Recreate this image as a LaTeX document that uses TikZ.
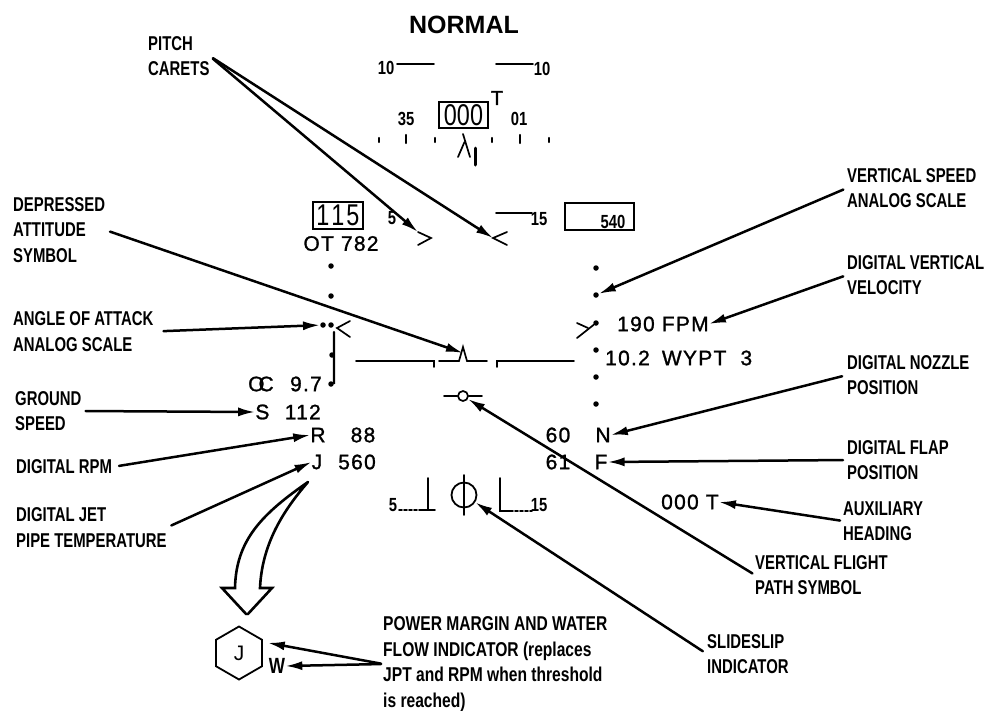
\documentclass[tikz,border=0pt]{standalone}
\usepackage{fontspec}
\usepackage{xcolor}
\usepackage{tikz}
\usetikzlibrary{positioning, arrows.meta, calc, shapes.geometric}
\newfontfamily\lblfont[FakeStretch=0.745]{Liberation Sans}
\newfontfamily\lblwide[FakeStretch=0.78]{Liberation Sans}
\newfontfamily\hudfont[LetterSpace=6,FakeBold=1.2]{Liberation Sans}

\begin{document}
\begin{tikzpicture}[
        x=1pt, y=-1pt,
        line cap=round,
        lbl/.style    ={inner sep=0pt, anchor=west, align=left,
                        font=\lblfont\bfseries\fontsize{20}{25.5}\selectfont},
        hud/.style    ={inner sep=0pt, font=\hudfont\fontsize{21}{21}\selectfont},
        small/.style  ={inner sep=0pt, font=\lblwide\bfseries\fontsize{19}{19}\selectfont},
        dot/.style    ={circle, fill=black, inner sep=0pt, minimum size=5.5pt},
        box/.style    ={draw, line width=1.8pt, inner sep=0pt},
        sym/.style    ={draw, line width=1.7pt},
        arr/.style    ={-{Latex[length=17pt,width=9pt]}, line width=2.5pt, draw=black}
    ]
      \useasboundingbox (0,0) rectangle (985,710);

      % ===== HEADING SCALE =====
      \node[inner sep=0pt, font=\fontspec{Liberation Sans}\bfseries\fontsize{25}{25}\selectfont]
                                            (mode)  at (464,25)   {NORMAL};
      \node[small]                          (pl10)  at (386,68)   {10};
      \node[small]                          (pr10)  at (542,69)   {10};
      \node[small]                          (hd35)  at (406,119)  {35};
      \node[small]                          (hd01)  at (519,119)  {01};
      \node[hud, font=\hudfont\fontsize{20}{20}\selectfont] (hdt) at (497,98) {T};
      \node[box, minimum width=49pt, minimum height=26pt,
            font=\lblwide\fontsize{30}{30}\selectfont]  (hdg)   at (463.5,115) {000};
      \draw[sym] (397,64) -- (434,64);
      \draw[sym] (496,64) -- (533,64);
      \draw[line width=2.4pt] (379,138) -- (379,142);
      \draw[line width=2.4pt] (406,135) -- (406,143);
      \draw[line width=2.4pt] (435,138) -- (435,142);
      \draw[line width=2.4pt] (492,138) -- (492,142);
      \draw[line width=2.4pt] (520,135) -- (520,143);
      \draw[line width=2.4pt] (549,138) -- (549,142);
      \draw[sym] (463,134) -- (470,157);
      \draw[sym] (458,157) -- (464.5,142);
      \draw[line width=3pt] (475,148) -- (475,165);

      % ===== PITCH LADDER =====
      \node[box, minimum width=50pt, minimum height=27pt,
            font=\lblwide\fontsize{30}{30}\selectfont]  (spd)   at (338,215.5) {1\kern2pt 1\kern2pt 5};
      \node[hud, below=6pt of spd, xshift=3pt] (alt)            {OT 782};
      \node[box, minimum width=69pt, minimum height=27pt]       (vsbox) at (599.5,216.5) {};
      \node[small]                          (vsval) at (613,222)  {540};
      \node[small]                          (p5)    at (392,218)  {5};
      \node[small]                          (p15)   at (539,219)  {15};
      \draw[sym] (496,213) -- (532,213);
      \coordinate (ctl) at (418,232);
      \coordinate (ctr) at (493,238);
      \draw[sym] (ctl) -- (431,238) -- (418,245);
      \draw[sym] (507,232) -- (ctr) -- (507,245);

      % ===== LEFT SCALE =====
      \node[dot] (dl1) at (331,266) {};
      \node[dot] (dl2) at (331,296) {};
      \node[dot] (dl3) at (331,325) {};
      \node[dot] (dl0) at (323,325) {};
      \node[dot] (dl4) at (332,355) {};
      \node[dot] (dl5) at (331,384) {};
      \draw[line width=2.2pt] (dl5) -- (334,383) -- (334,332);
      \draw[sym] (350,321) -- (337,328) -- (350,337);

      % ===== RIGHT SCALE =====
      \node[dot] (dr1) at (596,268) {};
      \node[dot] (dr2) at (596,295) {};
      \node[dot] (dr3) at (596,323) {};
      \node[dot] (dr4) at (596,350) {};
      \node[dot] (dr5) at (596,377) {};
      \node[dot] (dr6) at (596,404) {};
      \draw[sym] (577,323) -- (588,328);
      \draw[sym] (577,338) -- (dr3);

      % ===== HORIZON AND FLIGHT PATH =====
      \draw[sym] (356,361) -- (434,361) -- (434,367);
      \draw[sym] (439,361) -- (459,361) -- (463,347) -- (467,361) -- (487,361);
      \draw[sym] (497,367) -- (497,361) -- (574,361);
      \node[draw, circle, line width=1.7pt, minimum size=10pt, inner sep=0pt] (fpv) at (463,396) {};
      \draw[sym] (444,396) -- (fpv);
      \draw[sym] (fpv) -- (482,396);
      \node[draw, circle, line width=1.8pt, minimum size=25pt, inner sep=0pt] (slip) at (464,495) {};
      \draw[sym] (464,475) -- (464,515);
      \node[small] (yl5)  at (393,505) {5};
      \node[small] (yr15) at (539,505) {15};
      \draw[sym] (428,478) -- (428,510);
      \draw[sym] (421,510) -- (435,510);
      \draw[sym, densely dashed] (399,510) -- (421,510);
      \draw[sym] (500,478) -- (500,511) -- (510,511);
      \draw[sym, densely dashed] (510,511) -- (532,511);

      % ===== DIGITAL READOUTS =====
      \node[hud, anchor=west] (fpm)  at (617,324) {190 FPM};
      \node[hud, anchor=west] (wypt) at (605,358) {10.2\kern5pt\ WYPT\kern7pt\ 3};
      \node[hud, anchor=east] (aoa)  at (322,384) {9.7};
      \node[hud, anchor=east, xshift=-16pt] (aoas) at (aoa.west) {O\kern-6pt C};
      \node[hud, anchor=east] (gs)   at (321,412) {112};
      \node[hud, anchor=east, xshift=-15pt] (gss) at (gs.west) {S};
      \node[hud]              (rr)   at (318,435) {R};
      \node[hud]              (rv)   at (363,435) {88};
      \node[hud]              (jj)   at (317,462) {J};
      \node[hud]              (jv)   at (357,462) {560};
      \node[hud]              (nv)   at (558,435) {60};
      \node[hud]              (fv)   at (558,462) {61};
      \node[hud]              (nn)   at (603,435) {N};
      \node[hud]              (ff)   at (601,462) {F};
      \node[hud, anchor=west] (aux)  at (661,502) {000 T};

      % ===== LABELS LEFT =====
      \node[lbl] (carets) at (148,56)    {PITCH\\CARETS};
      \node[lbl] (dep)    at (13,230)    {DEPRESSED\\ATTITUDE\\SYMBOL};
      \node[lbl] (aoal)   at (13,331.5)  {ANGLE OF ATTACK\\ANALOG SCALE};
      \node[lbl] (gsl)    at (15,411)    {GROUND\\SPEED};
      \node[lbl] (rpml)   at (16,467)    {DIGITAL RPM};
      \node[lbl] (jptl)   at (16,527.5)  {DIGITAL JET\\PIPE TEMPERATURE};

      % ===== LABELS RIGHT =====
      \node[lbl] (vsl)    at (847,188) {VERTICAL SPEED\\ANALOG SCALE};
      \node[lbl] (vvl)    at (847,275) {DIGITAL VERTICAL\\VELOCITY};
      \node[lbl] (nozl)   at (847,375) {DIGITAL NOZZLE\\POSITION};
      \node[lbl] (flapl)  at (847,460) {DIGITAL FLAP\\POSITION};
      \node[lbl] (auxl)   at (843,521) {AUXILIARY\\HEADING};
      \node[lbl] (fpl)    at (755,575) {VERTICAL FLIGHT\\PATH SYMBOL};
      \node[lbl] (ssl)    at (707,654) {SLIDESLIP\\INDICATOR};
      \node[lbl, font=\lblwide\bfseries\fontsize{20}{25.5}\selectfont]
                 (pwr)    at (383,664) {POWER MARGIN AND WATER\\FLOW INDICATOR (replaces\\JPT and RPM when threshold\\is reached)};

      % ===== SUBSTITUTE SYMBOL =====
      \node[draw, regular polygon, regular polygon sides=6, shape border rotate=30,
            minimum size=53pt, inner sep=0pt, line width=1.8pt,
            font=\fontspec{Liberation Sans}\fontsize{21}{21}\selectfont] (hexj) at (239,653) {J};
      \node[inner sep=0pt, font=\lblwide\bfseries\fontsize{22}{22}\selectfont] (ww) at (277,666) {W};
      \coordinate (bigtop) at (308,482);
      \node[inner sep=0pt] (bigtip) at (247,615) {};
      \draw[line width=2.6pt, line join=miter]
            (bigtop) .. controls (262,514) and (236,540) .. (235,588)
            -- (222,588) -- (bigtip) -- (272,588) -- (260,588)
            .. controls (262,545) and (282,512) .. (bigtop);

      % ===== LEADERS =====
      \draw[arr, shorten <=4pt] (carets.east) -- (ctl);
      \draw[arr, shorten <=4pt] (carets.east) -- (ctr);
      \draw[arr, shorten <=5pt] (dep.east)    -- (463,353);
      \draw[arr, shorten <=10pt] (aoal.east)  -- (dl0);
      \draw[arr, shorten <=4pt] (gsl.east)    -- (gss.west);
      \draw[arr, shorten <=7pt] (rpml.east)   -- (rr.west);
      \draw[arr, shorten <=5pt] (jptl.east)   -- (jj.west);
      \draw[arr, shorten <=4pt] (vsl.west)    -- (dr2);
      \draw[arr, shorten <=4pt] (vvl.west)    -- (fpm.east);
      \draw[arr, shorten <=5pt] (nozl.west)   -- (nn.east);
      \draw[arr, shorten <=4pt] (flapl.west)  -- (ff.east);
      \draw[arr, shorten <=3pt] (auxl.west)   -- (aux.east);
      \draw[arr, shorten <=3pt] (fpl.west)    -- (fpv);
      \draw[arr, shorten <=5pt] (ssl.west)    -- (slip);
      \draw[arr, shorten <=2pt, shorten >=5pt] (pwr.west) -- (hexj.25);
      \draw[arr, shorten <=2pt] (pwr.west)    -- (ww.east);
    \end{tikzpicture}
\end{document}
